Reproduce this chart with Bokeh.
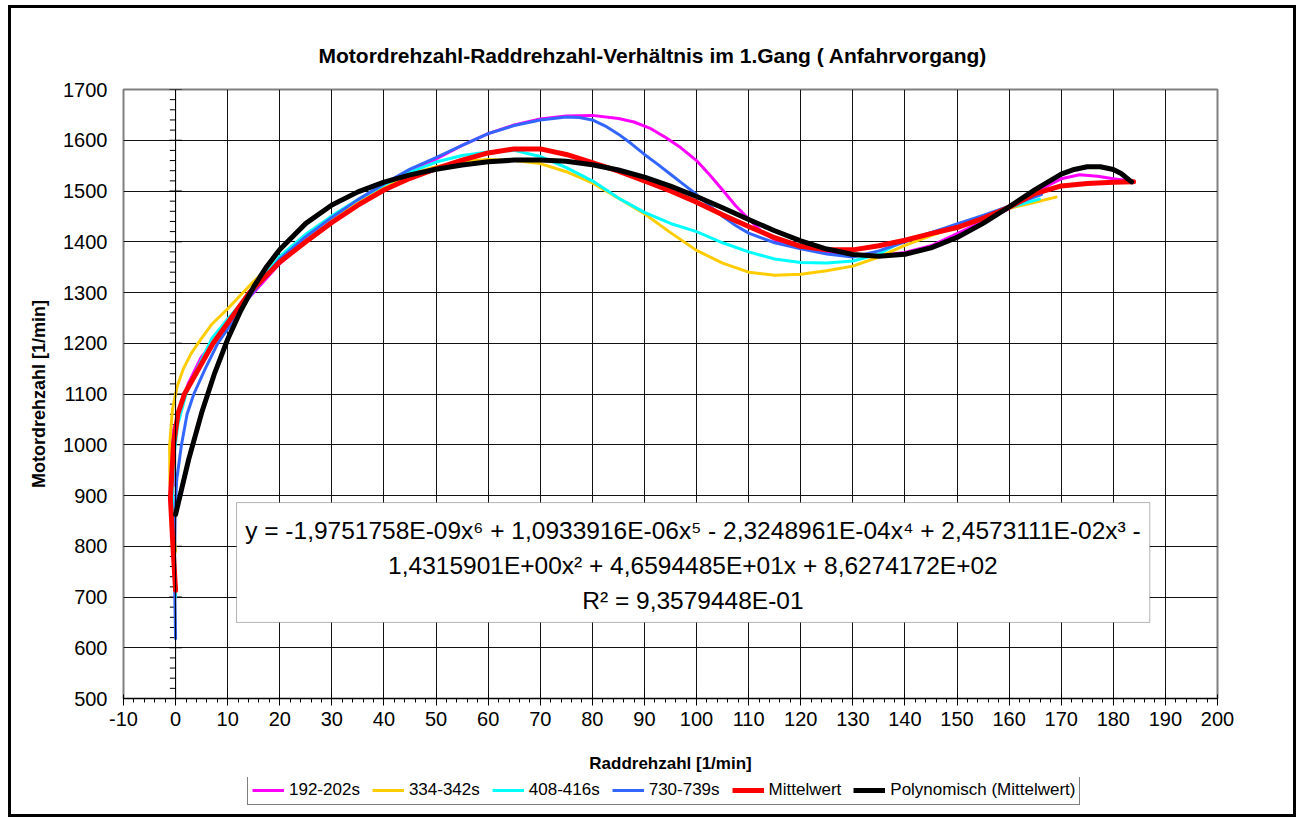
from bokeh.plotting import figure
from bokeh.layouts import column
from bokeh.models import (Range1d, FixedTicker, Label, BoxAnnotation, Span,
                          Legend, LegendItem, PrintfTickFormatter)
from bokeh.embed import file_html
from bokeh.resources import INLINE

# ---------------- data ----------------
title_text = "Motordrehzahl-Raddrehzahl-Verhältnis im 1.Gang ( Anfahrvorgang)"
x_title = "Raddrehzahl [1/min]"
y_title = "Motordrehzahl [1/min]"

x_ticks = list(range(-10, 201, 10))
x_minor = list(range(-10, 201, 2))
y_ticks = list(range(500, 1701, 100))
y_minor = [v for v in range(500, 1701, 20) if v % 100 != 0]

eq_lines = [
    "y = -1,9751758E-09x\u2076 + 1,0933916E-06x\u2075 - 2,3248961E-04x\u2074 + 2,4573111E-02x\u00b3 -",
    "1,4315901E+00x\u00b2 + 4,6594485E+01x + 8,6274172E+02",
    "R\u00b2 = 9,3579448E-01",
]

# 192-202s
s192_x = [-0.3, -0.8, -0.4, 0.45, 2.4, 4.9, 7.5, 10, 12.5, 15, 20, 25, 30, 35, 40, 45, 50, 55, 60,
          65, 70, 75, 80, 85, 88, 91, 94, 97, 100, 102.5, 105, 107.5, 110, 112.5, 115, 117.5, 120,
          125, 130, 135, 140, 145, 150, 155, 160, 165, 170, 173.5, 177, 180, 183.6]
s192_y = [920, 1000, 1030, 1054, 1120, 1172, 1205, 1240, 1272, 1300, 1357, 1402, 1440, 1477, 1511,
          1540, 1563, 1590, 1613, 1630, 1642, 1648, 1649, 1643, 1636, 1624, 1606, 1585, 1560, 1532,
          1502, 1471, 1445, 1420, 1404, 1394, 1388, 1378, 1373, 1373, 1379, 1392, 1416, 1440, 1465,
          1498, 1524, 1532, 1529, 1524, 1519]

# 334-342s
s334_x = [0, -0.6, -1.1, -1.15, -0.6, 0.3, 1.5, 3, 4.8, 7, 10, 15, 20, 25, 30, 35, 40, 45, 50, 55,
          60, 65, 70, 75, 80, 85, 90, 95, 100, 105, 110, 115, 120, 125, 130, 135, 140, 145, 150, 155,
          160, 165, 169]
s334_y = [790, 860, 930, 998, 1070, 1115, 1150, 1180, 1207, 1238, 1268, 1322, 1368, 1410, 1447,
          1480, 1510, 1533, 1548, 1558, 1562, 1560, 1554, 1538, 1516, 1486, 1455, 1418, 1383, 1358,
          1340, 1334, 1336, 1343, 1352, 1370, 1393, 1412, 1430, 1447, 1466, 1478, 1488]

# 408-416s
s408_x = [0, -0.3, -0.6, -0.3, 0.45, 2, 4.3, 7, 10, 14, 20, 25, 30, 35, 40, 45, 50, 55, 60, 65, 70,
          75, 80, 85, 90, 95, 100, 105, 110, 115, 120, 125, 130, 135, 140, 145, 150, 155, 160, 165.8]
s408_y = [700, 800, 900, 980, 1041, 1100, 1153, 1210, 1248, 1295, 1371, 1415, 1451, 1483, 1512, 1537,
          1557, 1570, 1577, 1580, 1568, 1546, 1520, 1486, 1458, 1436, 1420, 1398, 1380, 1366, 1359,
          1358, 1362, 1376, 1403, 1418, 1432, 1450, 1467, 1484]

# 730-739s
s730_x = [0, -0.15, -0.2, -0.1, 0.2, 1.1, 2.2, 3.5, 5.7, 8.1, 11, 14.8, 20, 25, 30, 35, 40, 45, 50,
          55, 60, 65, 70, 75, 77.5, 80, 82.5, 85, 87.5, 90, 92.5, 95, 97.5, 100, 102.5, 105, 107.5,
          110, 115, 120, 125, 130, 135, 140, 145, 150, 155, 160, 166.2]
s730_y = [618, 700, 780, 860, 930, 998, 1060, 1100, 1150, 1200, 1243, 1300, 1366, 1410, 1448, 1483,
          1514, 1543, 1566, 1590, 1613, 1629, 1640, 1646, 1645, 1640, 1628, 1612, 1593, 1572, 1553,
          1533, 1513, 1493, 1471, 1450, 1432, 1417, 1398, 1386, 1376, 1370, 1382, 1400, 1418, 1435,
          1452, 1470, 1493]

# Mittelwert
mean_x = [0, -0.5, -1.0, -0.4, 0.45, 1.7, 4, 7.2, 10, 14.2, 20, 25, 30, 35, 40, 45, 50, 55, 60, 65,
          70, 75, 80, 85, 90, 95, 100, 105, 110, 115, 120, 125, 130, 135, 140, 145, 150, 155, 160,
          165, 170, 175, 180, 183.9]
mean_y = [713, 798, 896, 1000, 1061, 1100, 1142, 1200, 1240, 1300, 1360, 1400, 1438, 1472, 1502,
          1525, 1544, 1561, 1575, 1583, 1583, 1572, 1556, 1539, 1520, 1500, 1478, 1453, 1430, 1408,
          1391, 1384, 1384, 1392, 1403, 1416, 1428, 1446, 1468, 1495, 1510, 1515, 1517, 1518]

# Polynomisch (Mittelwert) - trendline
poly_x = [0, 2.5, 5, 7.5, 10, 12.5, 15, 17.5, 20, 25, 30, 35, 40, 45, 50, 55, 60, 65, 70, 75, 80,
          85, 90, 95, 100, 105, 110, 115, 120, 125, 130, 135, 140, 145, 150, 155, 160, 165, 170,
          172.5, 175, 177.5, 180, 181.5, 183.5]
poly_y = [862.7, 970.7, 1062.9, 1141.3, 1207.9, 1264.1, 1311.5, 1351.4, 1384.7, 1436.2, 1472.4,
          1498.3, 1517.4, 1531.8, 1542.9, 1551.4, 1557.5, 1560.9, 1561.3, 1558.5, 1551.8, 1541.4,
          1527.2, 1509.6, 1489.2, 1466.9, 1443.9, 1421.7, 1401.7, 1385.6, 1375.0, 1371.2, 1375.3,
          1387.9, 1408.5, 1436.2, 1468.7, 1502.6, 1533.2, 1542.5, 1547.9, 1547.8, 1542.4, 1534.5,
          1518]

series = [
    ("192-202s", s192_x, s192_y, "#FF00FF", 3),
    ("334-342s", s334_x, s334_y, "#FFCC00", 3),
    ("408-416s", s408_x, s408_y, "#00FFFF", 3),
    ("730-739s", s730_x, s730_y, "#3366FF", 3),
    ("Mittelwert", mean_x, mean_y, "#FF0000", 5),
    ("Polynomisch (Mittelwert)", poly_x, poly_y, "#000000", 5),
]

FONT = "Liberation Sans"
BLK = "linear-gradient(#000,#000)"

# ---------------- main figure ----------------
p = figure(width=1304, height=777, x_range=Range1d(-10, 200), y_range=Range1d(500, 1700),
           output_backend="svg", toolbar_location=None,
           min_border_left=123, min_border_right=87, min_border_top=89, min_border_bottom=79,
           title=title_text)
p.styles = {"background": (f"{BLK} 8px 5px / 3px 772px no-repeat, "
                           f"{BLK} 8px 5px / 1288px 3px no-repeat, "
                           f"{BLK} 1293px 5px / 3px 772px no-repeat, #ffffff")}
p.background_fill_color = "white"
p.border_fill_color = None
p.outline_line_color = "#808080"
p.outline_line_width = 2

p.title.align = "left"
p.title.offset = 195
p.title.standoff = 46
p.title.text_font = FONT
p.title.text_font_size = "21px"
p.title.text_font_style = "bold"
p.title.text_color = "black"

# grids
p.xgrid.ticker = FixedTicker(ticks=x_ticks)
p.ygrid.ticker = FixedTicker(ticks=y_ticks)
for g in (p.xgrid, p.ygrid):
    g.grid_line_color = "#111111"
    g.grid_line_width = 1

# x axis
xa = p.xaxis[0]
xa.ticker = FixedTicker(ticks=x_ticks, minor_ticks=x_minor)
xa.formatter = PrintfTickFormatter(format="%d")
xa.axis_line_color = "black"
xa.major_tick_line_color = "black"
xa.minor_tick_line_color = "black"
xa.major_tick_in = 4
xa.major_tick_out = 7
xa.minor_tick_in = 0
xa.minor_tick_out = 4
xa.major_label_text_font = FONT
xa.major_label_text_font_size = "20px"
xa.major_label_text_color = "black"
xa.major_label_standoff = 6
xa.axis_label = x_title
xa.axis_label_text_font = FONT
xa.axis_label_text_font_style = "bold"
xa.axis_label_text_font_size = "17px"
xa.axis_label_text_color = "black"
xa.axis_label_standoff = 25

# y axis (labels only at the left edge)
ya = p.yaxis[0]
ya.ticker = FixedTicker(ticks=y_ticks, minor_ticks=[])
ya.axis_line_color = None
ya.major_tick_line_color = None
ya.minor_tick_line_color = None
ya.major_tick_in = 0
ya.major_tick_out = 0
ya.major_label_text_font = FONT
ya.major_label_text_font_size = "20px"
ya.major_label_text_color = "black"
ya.major_label_standoff = 16
ya.axis_label = y_title
ya.axis_label_text_font = FONT
ya.axis_label_text_font_style = "bold"
ya.axis_label_text_font_size = "18px"
ya.axis_label_text_color = "black"
ya.axis_label_standoff = 11

# vertical value axis crossing at x = 0
p.add_layout(Span(location=0, dimension="height", line_color="black", line_width=1))
p.segment(x0=[-1.2] * len(y_ticks), y0=y_ticks, x1=[1.2] * len(y_ticks), y1=y_ticks,
          line_color="black", line_width=1)
p.segment(x0=[-1.1] * len(y_minor), y0=y_minor, x1=[0] * len(y_minor), y1=y_minor,
          line_color="black", line_width=1)

# series
for name, xs, ys, col, lw in series:
    p.line(xs, ys, line_color=col, line_width=lw, line_join="round", line_cap="round")

# equation box
p.add_layout(BoxAnnotation(left=11.7, right=187.0, bottom=650, top=886,
                           fill_color="white", fill_alpha=1.0,
                           line_color="black", line_width=1, level="annotation"))
for yy, txt in zip([831, 762, 693], eq_lines):
    p.add_layout(Label(x=99.3, y=yy, text=txt, text_align="center", text_baseline="middle",
                       text_font=FONT, text_font_size="24.5px", text_color="black"))

# ---------------- legend strip ----------------
p2 = figure(width=1304, height=43, x_range=Range1d(0, 1), y_range=Range1d(0, 1),
            output_backend="svg", toolbar_location=None, min_border=0,
            x_axis_location=None, y_axis_location=None)
p2.styles = {"background": (f"{BLK} 8px 0px / 3px 40px no-repeat, "
                            f"{BLK} 1293px 0px / 3px 40px no-repeat, "
                            f"{BLK} 8px 37px / 1288px 3px no-repeat, #ffffff")}
p2.xgrid.visible = False
p2.ygrid.visible = False
p2.outline_line_color = None
p2.background_fill_color = None
p2.border_fill_color = None

items = []
for name, xs, ys, col, lw in series:
    # legend sample only (point lies outside the strip's visible range)
    r = p2.line(x=[-1.0], y=[-1.0], line_color=col, line_width=lw)
    items.append(LegendItem(label=name, renderers=[r]))

legend = Legend(items=items, orientation="horizontal", location=(124, 15),
                border_line_color="black", border_line_width=1,
                label_text_font=FONT, label_text_font_size="17px", label_text_color="black",
                glyph_width=32, glyph_height=16, label_standoff=5, spacing=12,
                padding=4, margin=0, background_fill_color="white")
p2.add_layout(legend)

layout = column(p, p2, spacing=0)
open("out.html", "w").write(file_html(layout, INLINE))
